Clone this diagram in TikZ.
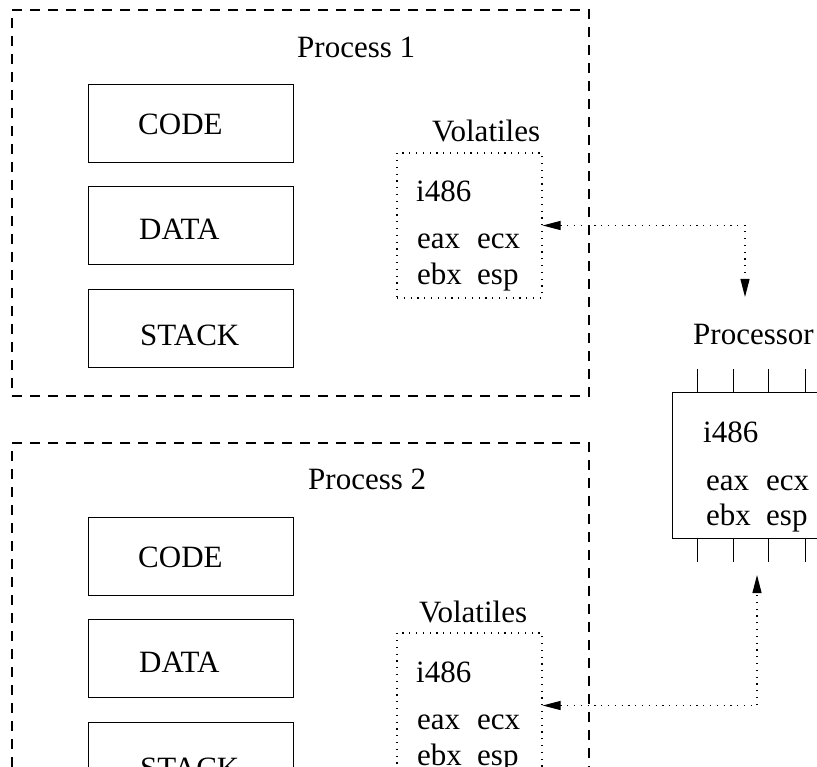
\documentclass[tikz,border=0pt]{standalone}
\usepackage{fontspec}
\setmainfont{Liberation Serif}
\usetikzlibrary{arrows.meta}
\begin{document}
\begin{tikzpicture}[x=1pt,y=-1pt,
  txt/.style={anchor=base west, inner sep=0pt, font=\fontsize{31}{37}\selectfont},
  procbox/.style={draw, line width=1.2pt, dash pattern=on 10pt off 8pt, rectangle, inner sep=0pt, minimum width=577pt, minimum height=386pt},
  segbox/.style={draw, line width=1pt, rectangle, inner sep=0pt, minimum width=205pt, minimum height=78pt},
  volbox/.style={draw, line width=1.2pt, dash pattern=on 1.2pt off 5.6pt, rectangle, inner sep=0pt, minimum width=145pt, minimum height=145pt},
  chipbox/.style={draw, line width=1pt, rectangle, inner sep=0pt, minimum width=158pt, minimum height=145pt},
  link/.style={line width=1.2pt, dash pattern=on 1.2pt off 5.6pt, {Triangle[length=18pt,width=9pt]}-{Triangle[length=18pt,width=9pt]}},
  pin/.style={line width=1pt}
]
\useasboundingbox (0,0) rectangle (817,767);
\begin{scope}
\clip (0,0) rectangle (817,767);
% Process boxes
\node[procbox] (p1) at (300.5,203) {};
\node[procbox] (p2) at (300.5,636) {};
\node[txt] (p1label) at (297,58) {Process 1};
\node[txt] (p2label) at (308,489) {Process 2};
% Segments process 1
\node[segbox] (code1) at (190.5,124) {};
\node[segbox] (data1) at (190.5,226) {};
\node[segbox] (stack1) at (190.5,329) {};
\node[txt] (code1t) at (138,135) {CODE};
\node[txt] (data1t) at (139,240) {DATA};
\node[txt] (stack1t) at (140,346) {STACK};
% Segments process 2
\node[segbox] (code2) at (190.5,556) {};
\node[segbox] (data2) at (190.5,658) {};
\node[segbox] (stack2) at (190.5,761) {};
\node[txt] (code2t) at (138,567) {CODE};
\node[txt] (data2t) at (139,672) {DATA};
\node[txt] (stack2t) at (140,778) {STACK};
% Volatiles 1
\node[txt] (v1label) at (432,142) {Volatiles};
\node[volbox] (vol1) at (469.5,225.5) {};
\node[txt] (v1a) at (416,202) {i486};
\node[txt] (v1b) at (417,249) {\makebox[60pt][l]{eax}ecx};
\node[txt] (v1c) at (417,285) {\makebox[60pt][l]{ebx}esp};
% Volatiles 2
\node[txt] (v2label) at (419,622) {Volatiles};
\node[volbox] (vol2) at (469.5,705.5) {};
\node[txt] (v2a) at (416,682) {i486};
\node[txt] (v2b) at (417,729) {\makebox[60pt][l]{eax}ecx};
\node[txt] (v2c) at (417,765) {\makebox[60pt][l]{ebx}esp};
% Processor
\node[txt] (proclabel) at (693,345) {Processor};
\node[chipbox] (chip) at (751,465.5) {};
\foreach \px in {697,733,768,805} {
  \draw[pin] (\px,369) -- (\px,393);
  \draw[pin] (\px,538) -- (\px,562);
}
\node[txt] (ca) at (703,442) {i486};
\node[txt] (cb) at (706,490) {\makebox[60pt][l]{eax}ecx};
\node[txt] (cc) at (706,525) {\makebox[60pt][l]{ebx}esp};
% Links
\coordinate (t1) at (745,297);
\coordinate (t2) at (757,575);
\draw[link] (vol1.east) -| (t1);
\draw[link] (vol2.east) -| (t2);
\end{scope}
\end{tikzpicture}
\end{document}
